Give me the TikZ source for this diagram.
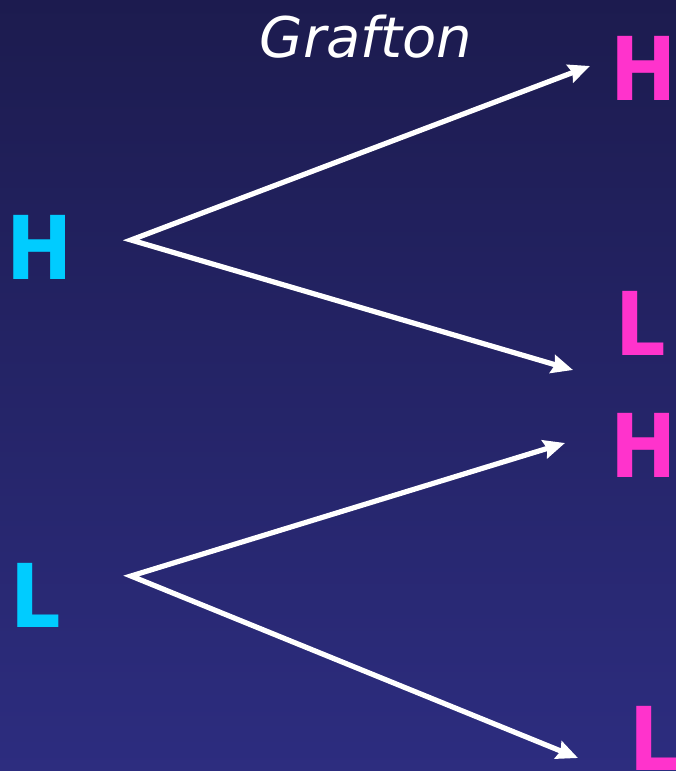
\documentclass[tikz,border=0pt]{standalone}
\usepackage{fontspec}
\setmainfont{DejaVu Sans}
\newfontfamily\letterfont{DejaVu Sans Condensed}
\usetikzlibrary{arrows.meta}
\definecolor{bgtop}{HTML}{1C1B4E}
\definecolor{bgbot}{HTML}{2D2D80}
\definecolor{srccol}{HTML}{00CCFF}
\definecolor{dstcol}{HTML}{FF33CC}
\begin{document}
\begin{tikzpicture}[x=0.75pt,y=-0.75pt,
  letter/.style={font=\letterfont\fontsize{66pt}{66pt}\selectfont\bfseries, inner sep=0pt, outer sep=0pt, anchor=base west},
  src/.style={letter, text=srccol},
  dst/.style={letter, text=dstcol},
  title/.style={font=\fontsize{42pt}{42pt}\selectfont\itshape, text=white, inner sep=0pt, anchor=base},
  branch/.style={draw=white, line width=3.9pt, line join=miter,
    arrows={Stealth[length=16pt,width=14pt,inset=2pt]-Stealth[length=16pt,width=14pt,inset=2pt]}}]
\useasboundingbox (0,0) rectangle (675,771);
% background runs a little past the page edges so no seam is left
\shade[top color=bgtop, bottom color=bgbot] (-10,-10) rectangle (685,781);

% title
\node[title] (grafton) at (366,57) {Grafton};

% source states
\node[src] (hL) at (7,279) {H};
\node[src] (lL) at (10,627) {L};

% destination states
\node[dst] (hR1) at (610,100) {H};
\node[dst] (lR1) at (615,355) {L};
\node[dst] (hR2) at (610,477) {H};
\node[dst] (lR2) at (629,770) {L};

% branch points and arrow tips
\coordinate (fromH) at (131,240);
\coordinate (fromL) at (131,576);
\coordinate (toH1) at (590,66);
\coordinate (toL1) at (573,370);
\coordinate (toH2) at (565,443);
\coordinate (toL2) at (578,758);

\draw[branch] (toH1) -- (fromH) -- (toL1);
\draw[branch] (toH2) -- (fromL) -- (toL2);
\end{tikzpicture}
\end{document}
